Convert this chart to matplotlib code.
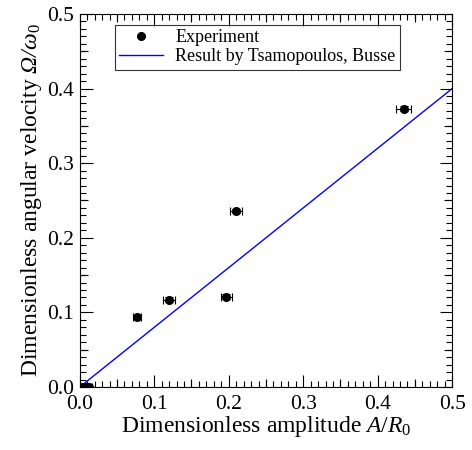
import numpy as np
import matplotlib
matplotlib.use('Agg')
import matplotlib.pyplot as plt
from matplotlib.lines import TICKUP, TICKDOWN, TICKLEFT, TICKRIGHT
from matplotlib.ticker import MultipleLocator

plt.rcParams['font.family'] = ['Liberation Serif', 'DejaVu Serif']
plt.rcParams['mathtext.fontset'] = 'custom'
plt.rcParams['mathtext.rm'] = 'Liberation Serif'
plt.rcParams['mathtext.it'] = 'Liberation Serif:italic'
# sf slot used for italic greek capitals (mathtext forces \mathit capitals upright)
plt.rcParams['mathtext.sf'] = 'Liberation Serif:italic'

# measured rotation rate vs. amplitude
amp = [0.003, 0.008, 0.012, 0.077, 0.120, 0.197, 0.210, 0.435]
amp_err = [0.004, 0.004, 0.004, 0.005, 0.008, 0.008, 0.008, 0.010]
omega = [0.0, 0.0, 0.0, 0.094, 0.117, 0.121, 0.236, 0.373]
omega_err = [0.002, 0.002, 0.002, 0.003, 0.003, 0.003, 0.003, 0.003]

# theory line (Tsamopoulos, Busse)
theory_x = [0.0, 0.5]
slope = 0.8

fig = plt.figure(figsize=(4.72, 4.5), dpi=100)
ax = fig.add_axes([0.169, 0.14, 0.789, 0.829])

ax.errorbar(amp, omega, xerr=amp_err, yerr=omega_err, fmt='none', ecolor='black',
            elinewidth=0.8, capsize=3, capthick=0.8, zorder=3)
ax.plot(amp, omega, 'o', color='black', ms=5.5, label='Experiment', zorder=4)
ax.plot(theory_x, [slope * x for x in theory_x], color='blue', lw=1.0,
        label='Result by Tsamopoulos, Busse', zorder=2)

ax.set_xlim(0, 0.5)
ax.set_ylim(0, 0.5)
ax.xaxis.set_major_locator(MultipleLocator(0.1))
ax.yaxis.set_major_locator(MultipleLocator(0.1))
ax.xaxis.set_minor_locator(MultipleLocator(0.01))
ax.yaxis.set_minor_locator(MultipleLocator(0.01))
ax.xaxis.set_major_formatter(plt.FormatStrFormatter('%.1f'))
ax.yaxis.set_major_formatter(plt.FormatStrFormatter('%.1f'))
ax.tick_params(which='both', direction='in', top=True, right=True, width=0.8)
ax.tick_params(which='major', length=9, labelsize=15.5)
ax.tick_params(axis='x', which='major', pad=6)
ax.tick_params(axis='y', which='major', pad=4)
ax.tick_params(which='minor', length=4)

# medium ticks every 0.05
mids = np.arange(0.05, 0.5, 0.1)
xt = ax.get_xaxis_transform()
yt = ax.get_yaxis_transform()
for m in mids:
    ax.plot([m], [0], marker=TICKUP, ms=6, mew=0.8, color='k', transform=xt, clip_on=False)
    ax.plot([m], [1], marker=TICKDOWN, ms=6, mew=0.8, color='k', transform=xt, clip_on=False)
    ax.plot([0], [m], marker=TICKRIGHT, ms=6, mew=0.8, color='k', transform=yt, clip_on=False)
    ax.plot([1], [m], marker=TICKLEFT, ms=6, mew=0.8, color='k', transform=yt, clip_on=False)

for s in ax.spines.values():
    s.set_linewidth(0.8)

ax.set_xlabel(r'Dimensionless amplitude $\mathit{A/R}_0$', fontsize=17, labelpad=0)
ax.set_ylabel(r'Dimensionless angular velocity $\mathsf{Ω/ω}_0$', fontsize=17, labelpad=2)

leg = ax.legend(loc='upper left', bbox_to_anchor=(0.08, 0.985), fontsize=13,
                frameon=True, fancybox=False, edgecolor='black', borderpad=0.25,
                handlelength=2.4, handletextpad=0.7, labelspacing=0.1, borderaxespad=0.3)
leg.get_frame().set_linewidth(0.8)

fig.savefig('out.png', dpi=100)
